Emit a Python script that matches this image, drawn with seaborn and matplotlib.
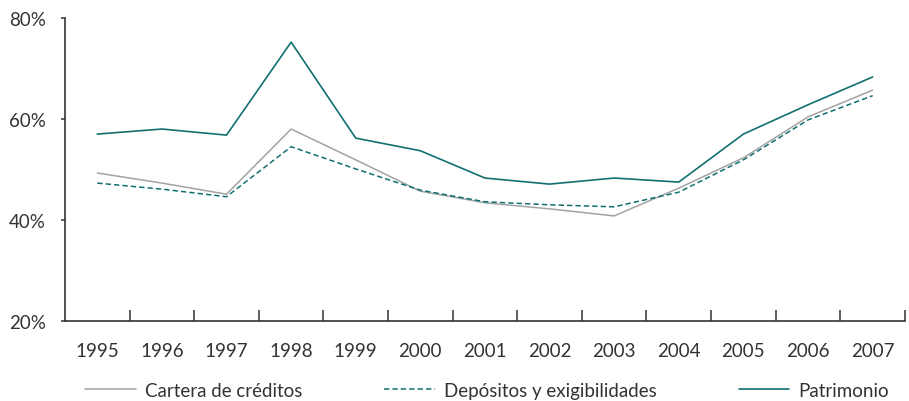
import numpy as np
import pandas as pd
import seaborn as sns
import matplotlib.pyplot as plt
from matplotlib.ticker import FixedLocator

years = ["1995", "1996", "1997", "1998", "1999", "2000", "2001",
         "2002", "2003", "2004", "2005", "2006", "2007"]
cartera = [49.3, 47.3, 45.1, 58.0, 51.9, 45.7, 43.4, 42.2, 40.8, 46.3, 52.3, 60.4, 65.7]
depositos = [47.3, 46.1, 44.6, 54.5, 50.1, 45.9, 43.6, 43.0, 42.6, 45.5, 51.9, 59.8, 64.6]
patrimonio = [57.0, 58.0, 56.8, 75.2, 56.2, 53.7, 48.3, 47.1, 48.3, 47.5, 57.0, 62.8, 68.3]
y_ticks = [20, 40, 60, 80]

teal = "#11706f"
gray = "#a3a3a3"
dark = "#333333"
fs = 13.5

sns.set_style("white")
plt.rcParams['font.family'] = ['Lato', 'DejaVu Sans']

x = np.arange(len(years))
fig = plt.figure(figsize=(9.09, 4.02), dpi=100)
ax = fig.add_axes([0.0715, 0.199, 0.924, 0.754])

sns.lineplot(x=x, y=cartera, ax=ax, color=gray, lw=1.1, label="Cartera de créditos")
sns.lineplot(x=x, y=depositos, ax=ax, color=teal, lw=1.1, linestyle=(0, (3.5, 2)),
             label="Depósitos y exigibilidades")
sns.lineplot(x=x, y=patrimonio, ax=ax, color=teal, lw=1.2, label="Patrimonio")

ax.set_xlim(-0.5, len(years) - 0.5)
ax.set_ylim(20, 80)
ax.set_xticks(x)
ax.set_xticklabels(years)
ax.xaxis.set_minor_locator(FixedLocator(x + 0.5))
ax.tick_params(axis="x", which="major", length=0, pad=15, labelsize=fs, labelcolor=dark)
ax.tick_params(axis="x", which="minor", direction="in", length=8, width=1.1, color=dark, bottom=True)
ax.set_yticks(y_ticks)
ax.set_yticklabels([f"{v}%" for v in y_ticks])
ax.tick_params(axis="y", direction="out", length=3, width=1.1, color=dark, left=True,
               labelsize=fs, labelcolor=dark, pad=11)

for s in ["top", "right"]:
    ax.spines[s].set_visible(False)
for s in ["left", "bottom"]:
    ax.spines[s].set_color(dark)
    ax.spines[s].set_linewidth(1.2)

ax.get_legend().remove()
handles, labels = ax.get_legend_handles_labels()
fig.legend(handles, labels, ncol=3, loc="lower center", bbox_to_anchor=(0.536, -0.036),
           frameon=False, fontsize=fs, handlelength=2.7, handletextpad=0.5,
           columnspacing=4.35, labelcolor=dark)

fig.savefig("out.png", dpi=100)
